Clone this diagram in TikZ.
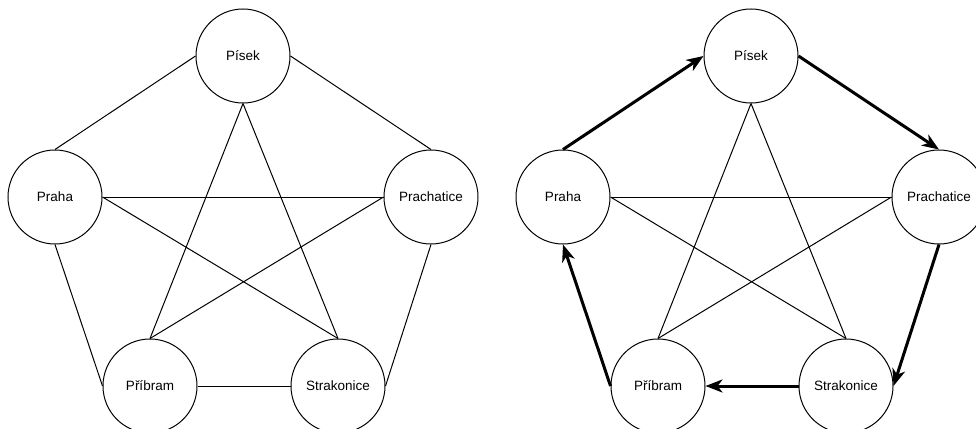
\documentclass[tikz,border=0pt]{standalone}
\usepackage{fontspec}
\setmainfont{Liberation Sans}
\usetikzlibrary{arrows.meta}
\begin{document}
\begin{tikzpicture}[x=1pt,y=-1pt,
  city/.style={draw, circle, line width=1pt, minimum size=94pt, inner sep=0pt, font=\fontsize{13.5}{16}\selectfont, fill=white},
  edge/.style={line width=1pt},
  tour/.style={line width=3pt, -{Stealth[length=17pt,width=13pt,inset=5pt]}}]
\useasboundingbox (0,0) rectangle (976,428);
% left graph
\node[city] (lPisek) at (243,56) {Písek};
\node[city] (lPraha) at (55,197) {Praha};
\node[city] (lPrach) at (431,197) {Prachatice};
\node[city] (lPrib) at (150,386) {Příbram};
\node[city] (lStrak) at (338,386) {Strakonice};
\draw[edge] (lPraha.north) -- (lPisek.west);
\draw[edge] (lPisek.east) -- (lPrach.north);
\draw[edge] (lPrach.south) -- (lStrak.east);
\draw[edge] (lStrak.west) -- (lPrib.east);
\draw[edge] (lPrib.west) -- (lPraha.south);
\draw[edge] (lPraha.east) -- (lPrach.west);
\draw[edge] (lPraha.east) -- (lStrak.north);
\draw[edge] (lPisek.south) -- (lPrib.north);
\draw[edge] (lPisek.south) -- (lStrak.north);
\draw[edge] (lPrach.west) -- (lPrib.north);
% right graph
\node[city] (rPisek) at (751,56) {Písek};
\node[city] (rPraha) at (563,197) {Praha};
\node[city] (rPrach) at (939,197) {Prachatice};
\node[city] (rPrib) at (658,386) {Příbram};
\node[city] (rStrak) at (846,386) {Strakonice};
\draw[tour] (rPraha.north) -- (rPisek.west);
\draw[tour] (rPisek.east) -- (rPrach.north);
\draw[tour] (rPrach.south) -- (rStrak.east);
\draw[tour] (rStrak.west) -- (rPrib.east);
\draw[tour] (rPrib.west) -- (rPraha.south);
\draw[edge] (rPraha.east) -- (rPrach.west);
\draw[edge] (rPraha.east) -- (rStrak.north);
\draw[edge] (rPisek.south) -- (rPrib.north);
\draw[edge] (rPisek.south) -- (rStrak.north);
\draw[edge] (rPrach.west) -- (rPrib.north);
\end{tikzpicture}
\end{document}
